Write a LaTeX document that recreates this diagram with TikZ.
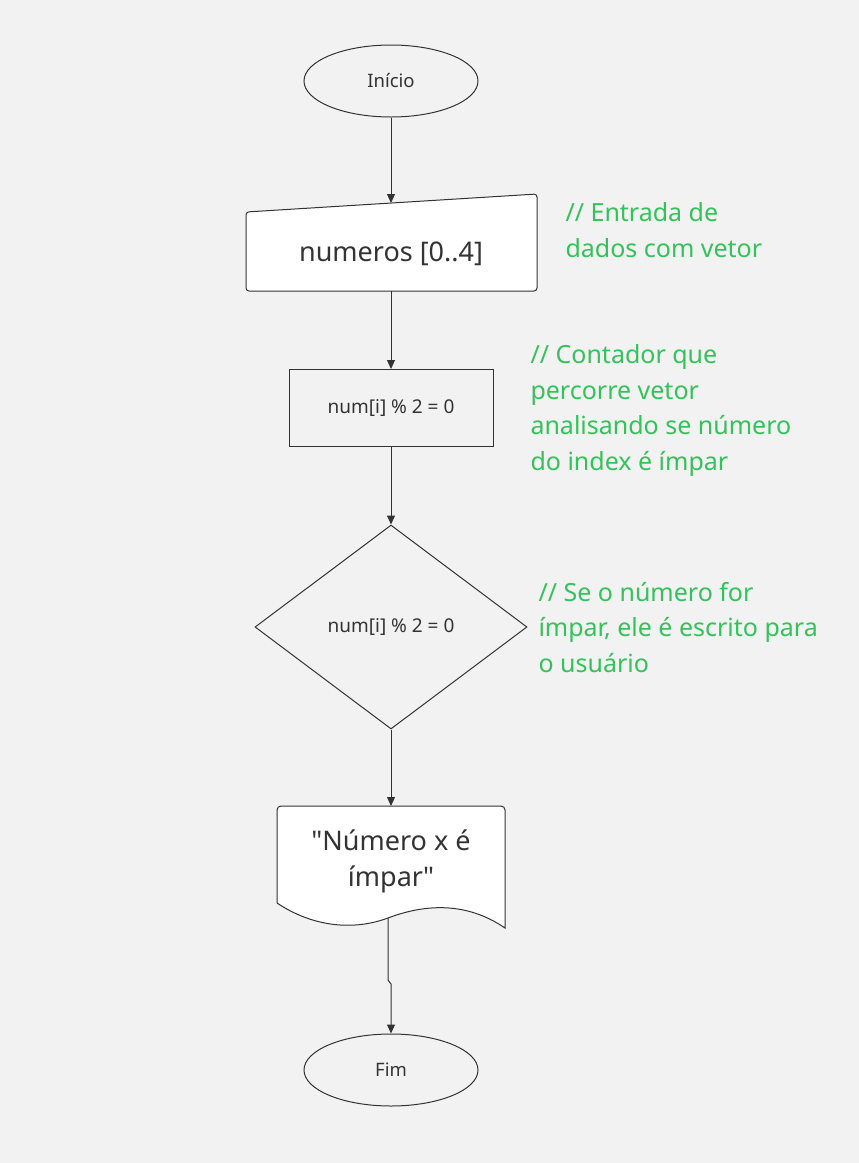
\documentclass[tikz,border=0pt]{standalone}
\usepackage{fontspec}
\setmainfont{Noto Sans}
\usetikzlibrary{shapes.geometric, arrows.meta}
\definecolor{pagegray}{RGB}{242,242,242}
\definecolor{linegray}{RGB}{51,51,51}
\definecolor{notegreen}{RGB}{52,194,90}

\begin{document}
\begin{tikzpicture}[
    x=1pt, y=-1pt,
    line width=1pt,
    every node/.style={text=linegray},
    terminal/.style={ellipse, draw=linegray, minimum width=174pt, minimum height=72pt, inner sep=0pt, font=\fontsize{18.5}{22}\selectfont},
    process/.style={rectangle, draw=linegray, minimum width=204pt, minimum height=77pt, inner sep=0pt, font=\fontsize{19}{22}\selectfont},
    decision/.style={diamond, draw=linegray, minimum width=272pt, minimum height=204pt, inner sep=0pt, font=\fontsize{19}{22}\selectfont},
    bigtext/.style={align=center, inner sep=0pt, font=\fontsize{27}{36}\selectfont},
    note/.style={text=notegreen, align=left, anchor=base west, inner sep=0pt, font=\fontsize{25}{35.5}\selectfont},
    flow/.style={draw=linegray, -{Triangle[length=9pt, width=8pt]}}
]

    % Page
    \fill[pagegray] (0,0) rectangle (859,1163);
    \useasboundingbox (0,0) rectangle (859,1163);

    % Coordinates
    \coordinate (c_start)  at (391, 81);
    \coordinate (c_input)  at (391, 254);
    \coordinate (c_count)  at (391, 408);
    \coordinate (c_test)   at (391, 627);
    \coordinate (c_output) at (391, 861);
    \coordinate (c_end)    at (391, 1070);

    % Start
    \node[terminal] (inicio) at (c_start) {Início};

    % Manual input (slanted top)
    \coordinate (in_tl) at (246, 212);
    \coordinate (in_tr) at (537, 194);
    \coordinate (in_br) at (537, 291);
    \coordinate (in_bl) at (246, 291);
    \coordinate (in_top) at (391, 203);
    \coordinate (in_bot) at (391, 291);
    \filldraw[linegray, fill=white, rounded corners=3pt]
        (in_tl) -- (in_tr) -- (in_br) -- (in_bl) -- cycle;
    \node[bigtext] (entrada) at (c_input) {numeros [0..4]};

    % Loop counter
    \node[process] (contador) at (c_count) {num[i] \% 2 = 0};

    % Decision
    \node[decision] (teste) at (c_test) {num[i] \% 2 = 0};

    % Output document (wavy bottom)
    \coordinate (doc_tl) at (277, 806);
    \coordinate (doc_tr) at (505, 806);
    \coordinate (doc_br) at (505, 928);
    \coordinate (doc_bl) at (277, 903);
    \coordinate (doc_bot) at (388, 918);
    \filldraw[linegray, fill=white]
        (doc_bl) -- (277, 810) arc[start angle=180, end angle=90, radius=4pt]
        -- (501, 806) arc[start angle=90, end angle=0, radius=4pt]
        -- (doc_br)
        .. controls (470, 904) and (430, 902) .. (doc_bot)
        .. controls (350, 932) and (310, 925) .. (doc_bl) -- cycle;
    \node[bigtext] (saida) at (c_output) {\textquotedbl Número x é\\ímpar\textquotedbl};

    % End
    \node[terminal] (fim) at (c_end) {Fim};

    % Connectors
    \draw[flow] (inicio) -- (in_top);
    \draw[flow] (in_bot) -- (contador);
    \draw[flow] (contador) -- (teste);
    \draw[flow] (teste) -- (doc_tl -| teste.south);
    \coordinate (jog_a) at (388, 980);
    \coordinate (jog_b) at (391, 984);
    \draw[flow] (doc_bot) -- (jog_a) -- (jog_b) -- (fim);

    % Comments (anchored at the last line's baseline)
    \node[note] (nota_entrada) at (565, 257) {// Entrada de\\dados com vetor};
    \node[note] (nota_contador) at (530, 470) {// Contador que\\percorre vetor\\analisando se número\\do index é ímpar};
    \node[note] (nota_teste) at (538, 672) {// Se o número for\\ímpar, ele é escrito para\\o usuário};

\end{tikzpicture}
\end{document}
